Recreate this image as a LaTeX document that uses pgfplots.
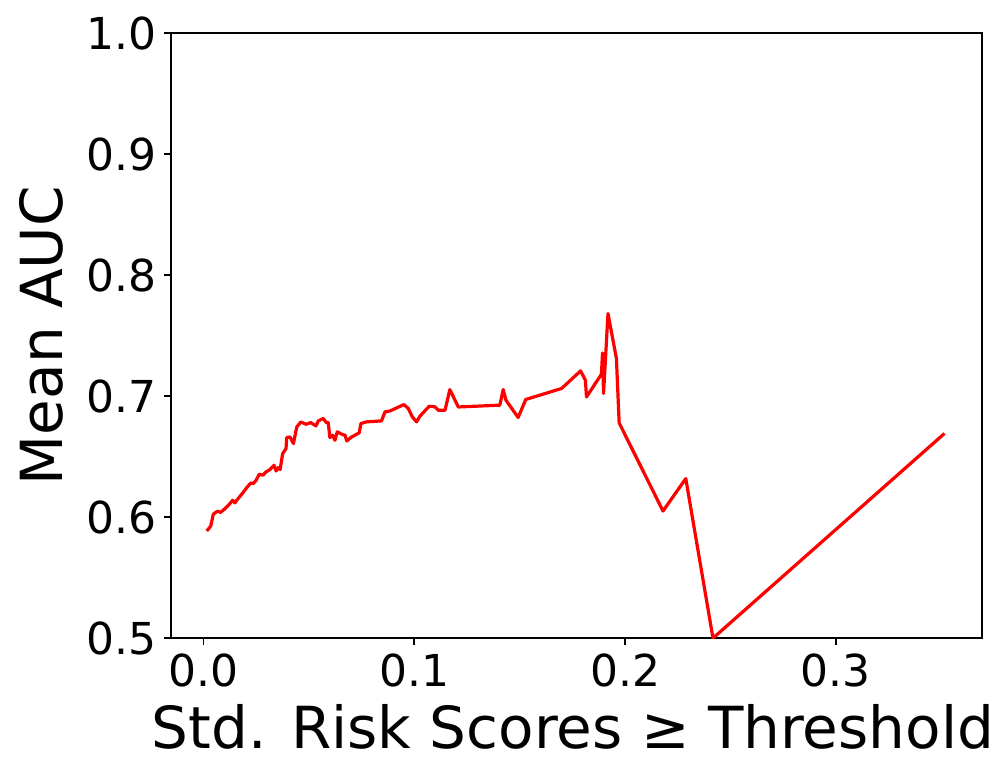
\documentclass[border=0pt]{standalone}
\usepackage{fontspec}
\setmainfont{DejaVu Sans}
\usepackage{pgfplots}
\pgfplotsset{compat=1.18}

\pgfplotstableread{
x y
0.0016 0.5886
0.0035 0.5927
0.0047 0.6024
0.0066 0.6049
0.0082 0.6040
0.0103 0.6071
0.0123 0.6107
0.0139 0.6140
0.0150 0.6118
0.0158 0.6140
0.0174 0.6173
0.0190 0.6208
0.0206 0.6245
0.0225 0.6283
0.0237 0.6278
0.0250 0.6305
0.0265 0.6355
0.0282 0.6347
0.0297 0.6374
0.0316 0.6394
0.0335 0.6429
0.0345 0.6382
0.0355 0.6410
0.0364 0.6394
0.0376 0.6526
0.0392 0.6567
0.0395 0.6658
0.0411 0.6663
0.0427 0.6609
0.0443 0.6746
0.0462 0.6787
0.0487 0.6768
0.0509 0.6782
0.0534 0.6754
0.0545 0.6796
0.0569 0.6816
0.0582 0.6783
0.0592 0.6783
0.0600 0.6658
0.0613 0.6677
0.0624 0.6636
0.0635 0.6705
0.0656 0.6686
0.0672 0.6677
0.0680 0.6630
0.0703 0.6663
0.0739 0.6697
0.0747 0.6774
0.0774 0.6788
0.0845 0.6796
0.0861 0.6870
0.0885 0.6878
0.0951 0.6931
0.0972 0.6898
0.0991 0.6829
0.1011 0.6788
0.1027 0.6835
0.1071 0.6917
0.1098 0.6912
0.1114 0.6884
0.1146 0.6884
0.1169 0.7055
0.1209 0.6911
0.1406 0.6926
0.1422 0.7055
0.1435 0.6967
0.1493 0.6824
0.1529 0.6973
0.1699 0.7064
0.1789 0.7209
0.1812 0.7132
0.1817 0.6994
0.1888 0.7182
0.1893 0.7358
0.1898 0.7022
0.1919 0.7684
0.1959 0.7312
0.1972 0.6779
0.2180 0.6051
0.2288 0.6319
0.2417 0.5000
0.3515 0.6692
}\auctable

\begin{document}
\begin{tikzpicture}
% picture frame: 998x780 px at 0.5pt per px, axis box at the origin
\path[use as bounding box] (-85.35pt,-71pt) rectangle (413.6pt,319.05pt);
\begin{axis}[
    scale only axis,
    width=405.6pt, height=302.4pt,
    xmin=-0.0155, xmax=0.3693,
    ymin=0.5, ymax=1.0,
    xtick={0,0.1,0.2,0.3},
    ytick={0.5,0.6,0.7,0.8,0.9,1.0},
    xtick pos=left, ytick pos=left,
    tick align=outside,
    major tick length=3.5pt,
    axis line style={line width=0.8pt},
    every tick/.style={black, line width=0.8pt},
    /pgf/number format/assume math mode=true,
    /pgf/number format/.cd, fixed, fixed zerofill, precision=1,
    /pgfplots/.cd,
    tick label style={font=\fontsize{22}{26}\selectfont},
    xticklabel style={yshift=-1pt},
    label style={font=\fontsize{29}{35}\selectfont},
    xlabel={Std. Risk Scores ≥ Threshold},
    ylabel={Mean AUC},
    xlabel style={yshift=-1.5pt, xshift=-1.75pt},
    ylabel style={yshift=5pt},
]
\addplot[red, line width=1.6pt, line join=round, mark=none] table[x=x, y=y] {\auctable};
\end{axis}
\end{tikzpicture}
\end{document}
